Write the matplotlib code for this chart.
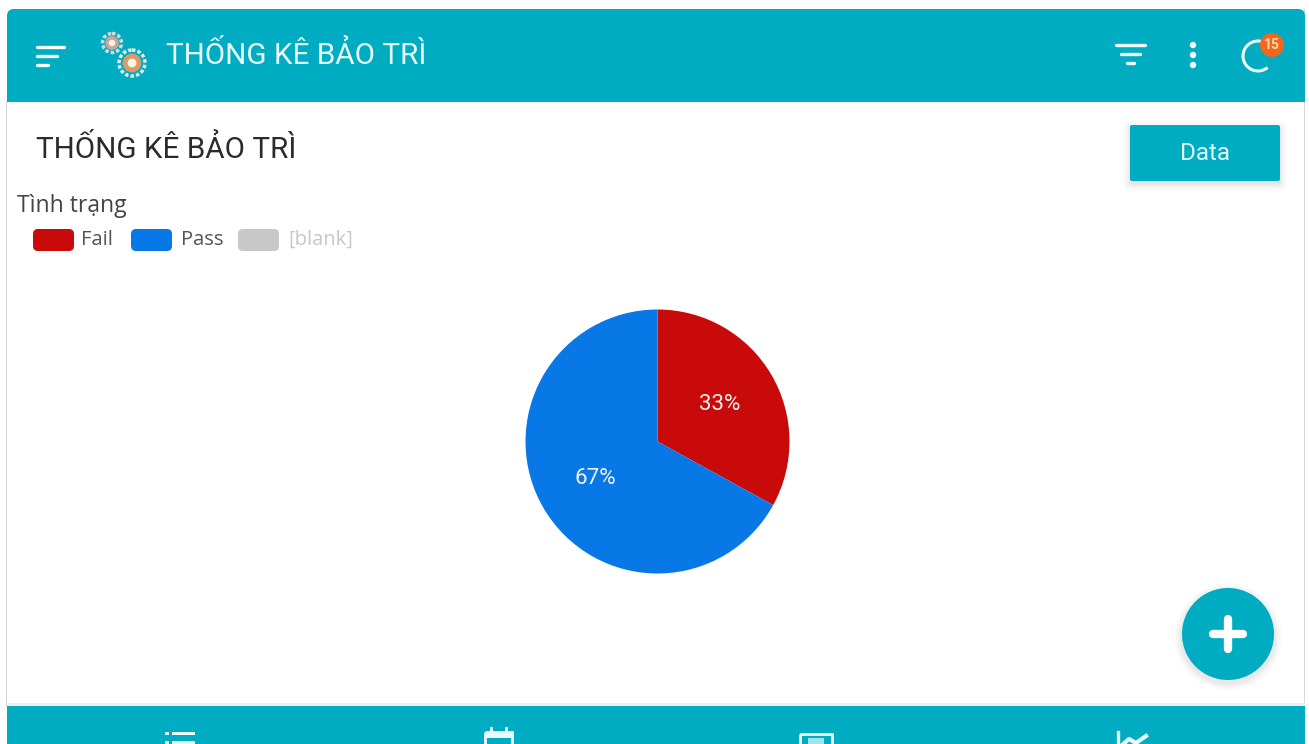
"""Maintenance statistics screen: app chrome around a Fail / Pass pie."""

import matplotlib

matplotlib.use("Agg")  # headless - no display required
import matplotlib.pyplot as plt
from matplotlib.patches import Arc, Circle, FancyBboxPatch, Rectangle


# ---------------------------------------------------------------------------
# Data
# ---------------------------------------------------------------------------
SCREEN_TITLE = "THỐNG KÊ BẢO TRÌ"
LEGEND_TITLE = "Tình trạng"
LEGEND_LABELS = ["Fail", "Pass", "[blank]"]
LEGEND_COLORS = ["#c80a0a", "#0878e6", "#c8c8c8"]
LEGEND_TEXT_COLORS = ["#555555", "#555555", "#c8c8c8"]
PIE_VALUES = [33, 67]
PIE_COLORS = ["#c80a0a", "#0878e6"]
BADGE_COUNT = "15"
BUTTON_LABEL = "Data"

TEAL = "#00acc1"
W, H = 1309, 744


def rounded(ax, x, y, w, h, radius, color, zorder=2, alpha=1.0):
    patch = FancyBboxPatch(
        (x + radius, y + radius),
        w - 2 * radius,
        h - 2 * radius,
        boxstyle=f"round,pad={radius}",
        facecolor=color,
        edgecolor="none",
        alpha=alpha,
        zorder=zorder,
    )
    ax.add_patch(patch)


def bar_line(ax, x0, x1, y, lw=2.4, color="#f2fdfe", zorder=5):
    ax.plot([x0, x1], [y, y], color=color, lw=lw, solid_capstyle="round", zorder=zorder)


def gear(ax, cx, cy, r, body, teeth):
    ax.add_patch(Circle((cx, cy), r, facecolor="none", edgecolor=teeth,
                        lw=2.5, ls=(0, (1, 0.6)), zorder=5))
    ax.add_patch(Circle((cx, cy), r * 0.72, facecolor=body, edgecolor="none", zorder=6))
    ax.add_patch(Circle((cx, cy), r * 0.34, facecolor="#fff5e0", edgecolor="none", zorder=7))


def draw_header(ax):
    rounded(ax, 7, 9, W - 11, 60, 7, TEAL)
    ax.add_patch(Rectangle((7, 40), W - 11, 61.5, facecolor=TEAL, edgecolor="none", zorder=2))

    # Menu icon
    bar_line(ax, 37, 64, 47)
    bar_line(ax, 37, 57, 56)
    bar_line(ax, 37, 48, 65)

    # Gear logo
    gear(ax, 112, 43, 9.5, "#c9a79a", "#d8d8d8")
    gear(ax, 132, 63, 13, "#dd9a68", "#e8e8e8")

    ax.text(166, 55, SCREEN_TITLE, color="#e8fbfd", fontsize=21.3, va="center",
            ha="left", zorder=5)

    # Filter icon
    bar_line(ax, 1116, 1145, 45)
    bar_line(ax, 1121, 1140, 54)
    bar_line(ax, 1127, 1134, 63)

    # Overflow dots
    for y in (45, 55, 65):
        ax.add_patch(Circle((1193, y), 3.2, facecolor="#f2fdfe", edgecolor="none", zorder=5))

    # Refresh ring with notification badge
    ax.add_patch(Arc((1258, 56), 30, 30, theta1=50, theta2=305, color="#f2fdfe", lw=2.2, zorder=5))
    ax.add_patch(Circle((1272, 45), 12, facecolor="#f4661b", edgecolor="none", zorder=6))
    ax.text(1272, 45, BADGE_COUNT, color="#ffd9a8", fontsize=10, weight="bold", ha="center",
            va="center", zorder=7)


def draw_body(ax):
    # Thin frame down both sides of the content card
    ax.add_patch(Rectangle((6, 101), 1.4, 605, facecolor="#d6d6d6", edgecolor="none", zorder=1))
    ax.add_patch(Rectangle((1304, 9), 1.4, 697, facecolor="#d6d6d6", edgecolor="none", zorder=1))
    ax.add_patch(Rectangle((7, 703), W - 11, 3, facecolor="#f0f0f0", edgecolor="none", zorder=1))

    ax.text(36, 149, SCREEN_TITLE, color="#2b2b2b", fontsize=21.3, va="center", ha="left", zorder=5)

    # Data button with a soft shadow
    for grow, alpha in ((7, 0.025), (5, 0.035), (3, 0.05), (1, 0.07)):
        rounded(ax, 1130 - grow, 125 - grow + 3, 150 + 2 * grow, 56 + 2 * grow, 5, "#777777",
                zorder=2, alpha=alpha)
    rounded(ax, 1130, 125, 150, 56, 2, TEAL, zorder=3)
    ax.text(1204.5, 153, BUTTON_LABEL, color="#dcfafd", fontsize=17.5, ha="center", va="center",
            zorder=5)

    # Legend
    ax.text(17, 206, LEGEND_TITLE, color="#444444", fontsize=16.5, family="Open Sans",
            va="center", ha="left", zorder=5)
    swatch_x = [33, 131, 238]
    text_x = [81, 181, 288]
    for label, color, text_color, sx, tx in zip(
        LEGEND_LABELS, LEGEND_COLORS, LEGEND_TEXT_COLORS, swatch_x, text_x
    ):
        rounded(ax, sx, 229, 41, 22, 5, color, zorder=3)
        ax.text(tx, 240, label, color=text_color, fontsize=14.5, family="Open Sans",
                va="center", ha="left", zorder=5)

    # Floating add button
    for grow, alpha in ((8, 0.02), (6, 0.03), (4, 0.04), (2, 0.06)):
        ax.add_patch(Circle((1228, 637), 46 + grow, facecolor="#777777", edgecolor="none",
                            alpha=alpha, zorder=2))
    ax.add_patch(Circle((1228, 634), 46, facecolor=TEAL, edgecolor="none", zorder=3))
    ax.plot([1213, 1243], [634, 634], color="white", lw=6, solid_capstyle="round", zorder=5)
    ax.plot([1228, 1228], [619, 649], color="white", lw=6, solid_capstyle="round", zorder=5)


def draw_footer(ax):
    ax.add_patch(Rectangle((7, 706), W - 11, 38, facecolor=TEAL, edgecolor="none", zorder=2))

    # List tab
    for y in (733, 742):
        ax.add_patch(Rectangle((165, y - 1.5), 4, 3.5, facecolor="#eafafc", edgecolor="none", zorder=5))
        ax.add_patch(Rectangle((172, y - 1.5), 23, 3.5, facecolor="#eafafc", edgecolor="none", zorder=5))

    # Calendar tab
    ax.add_patch(Rectangle((485, 732), 27, 14, facecolor="none", edgecolor="#eafafc", lw=2, zorder=5))
    ax.add_patch(Rectangle((485, 732), 27, 6, facecolor="#eafafc", edgecolor="none", zorder=5))
    for x in (491, 506):
        ax.add_patch(Rectangle((x - 1.5, 727), 3, 6, facecolor="#eafafc", edgecolor="none", zorder=5))

    # Card tab
    ax.add_patch(Rectangle((800, 734), 32, 14, facecolor="none", edgecolor="#eafafc", lw=2, zorder=5))
    ax.add_patch(Rectangle((808, 738), 16, 8, facecolor="#9fe3ec", edgecolor="none", zorder=5))

    # Trend tab
    ax.plot([1118, 1118, 1146], [732, 748, 748], color="#eafafc", lw=2.4, zorder=5)
    ax.plot([1121, 1129, 1136, 1146], [746, 739, 743, 736], color="#eafafc", lw=3, zorder=5)


def draw_pie(fig):
    cx, cy, r = 657.5, 441.5, 132
    pie_ax = fig.add_axes([(cx - r) / W, 1 - (cy + r) / H, 2 * r / W, 2 * r / H])
    pie_ax.pie(
        PIE_VALUES,
        colors=PIE_COLORS,
        startangle=90,
        counterclock=False,
        radius=1.0,
        autopct="%d%%",
        pctdistance=0.55,
        wedgeprops={"linewidth": 0},
        textprops={"color": "#f2f2f2", "fontsize": 16},
    )
    pie_ax.set_xlim(-1.0, 1.0)
    pie_ax.set_ylim(-1.0, 1.0)
    pie_ax.set_aspect("equal")
    pie_ax.axis("off")


def main() -> None:
    plt.rcParams["font.family"] = ["Roboto", "DejaVu Sans"]

    fig = plt.figure(figsize=(W / 100, H / 100), dpi=100, facecolor="white")
    ax = fig.add_axes([0, 0, 1, 1])
    ax.set_xlim(0, W)
    ax.set_ylim(H, 0)
    ax.axis("off")

    draw_body(ax)
    draw_header(ax)
    draw_footer(ax)
    draw_pie(fig)

    fig.savefig("out.png", dpi=100)


if __name__ == "__main__":
    main()
